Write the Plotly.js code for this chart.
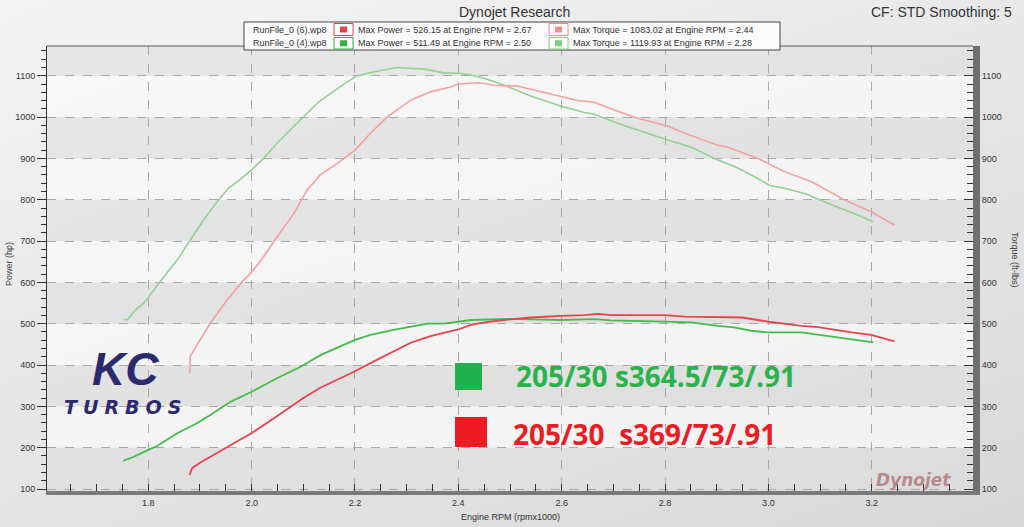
<!DOCTYPE html>
<html>
<head>
<meta charset="utf-8">
<script src="https://cdn.plot.ly/plotly-3.0.1.min.js"></script>
<style>
html,body{margin:0;padding:0;}
body{width:1024px;height:527px;background:linear-gradient(160deg,#f4f4f4 0%,#e6e6e6 50%,#d8d8d8 100%);overflow:hidden;}
#chart{width:1024px;height:527px;}
</style>
</head>
<body>
<div id="chart"></div>
<script>
// ---- data ----
const rpmTorqueGreen = [1.752,1.760,1.775,1.791,1.823,1.856,1.881,1.907,1.933,1.956,1.975,2.000,2.023,2.049,2.075,2.101,2.130,2.166,2.201,2.224,2.256,2.280,2.334,2.372,2.400,2.424,2.450,2.489,2.540,2.598,2.644,2.663,2.708,2.753,2.799,2.851,2.902,2.934,2.967,3.002,3.031,3.070,3.096,3.128,3.161,3.203];
const torqueGreen    = [510,510,533,549,602,654,702,751,795,829,846,872,900,936,969,1001,1037,1069,1098,1106,1115,1120,1116,1107,1106,1102,1094,1077,1051,1027,1011,1007,985,966,947,927,896,881,860,835,828,815,801,785,769,747];

const rpmTorqueRed = [1.880,1.881,1.894,1.920,1.952,1.985,2.001,2.023,2.049,2.082,2.107,2.133,2.166,2.200,2.230,2.263,2.308,2.346,2.385,2.400,2.440,2.469,2.514,2.553,2.598,2.631,2.663,2.702,2.747,2.806,2.838,2.902,2.922,2.980,3.031,3.083,3.148,3.199,3.244];
const torqueRed    = [380,420,448,501,557,606,626,662,710,767,823,860,888,920,961,1001,1041,1061,1073,1080,1083,1077,1075,1063,1051,1040,1036,1017,997,978,961,932,927,900,868,844,799,771,739];

const rpmPowerGreen = [1.751,1.772,1.799,1.817,1.856,1.894,1.920,1.959,2.001,2.049,2.095,2.133,2.200,2.230,2.275,2.340,2.372,2.400,2.424,2.500,2.598,2.663,2.695,2.799,2.851,2.902,2.934,2.967,2.999,3.064,3.096,3.161,3.203];
const powerGreen    = [168,178,194,204,235,259,279,311,336,368,396,424,461,473,485,500,500,505,509,511.5,509,511,508,505,503,495,491,483,479,479,473,462,455];

const rpmPowerRed = [1.880,1.885,1.901,1.946,2.001,2.049,2.101,2.133,2.200,2.243,2.308,2.346,2.400,2.424,2.450,2.489,2.540,2.598,2.644,2.670,2.695,2.799,2.838,2.949,2.999,3.064,3.096,3.161,3.199,3.244];
const powerRed    = [134,151,164,196,236,276,321,345,385,413,454,470,486,497,503,509,515,519,521,524,521,521,517,515,505,495,492,479,473,457];

const runNames   = ["RunFile_0 (6).wp8", "RunFile_0 (4).wp8"];
const maxPower   = ["Max Power = 526.15 at Engine RPM = 2.67", "Max Power = 511.49 at Engine RPM = 2.50"];
const maxTorque  = ["Max Torque = 1083.02 at Engine RPM = 2.44", "Max Torque = 1119.93 at Engine RPM = 2.28"];
const setupLabels = ["205/30 s364.5/73/.91", "205/30  s369/73/.91"];
const bandValues = [100,200,300,400,500,600,700,800,900,1000,1100];

// ---- layout geometry ----
const W = 1024, H = 527;
const PL = 47, PR = 973, PT = 46, PB = 491;
const X = px => (px - PL) / (PR - PL);
const Y = py => (PB - py) / (PB - PT);
const yRange = [95.2, 1172];
const xRange = [1.604, 3.396];

const FONT = "Liberation Sans, Arial, sans-serif";
const cGreenPow = "#45bb4c", cRedPow = "#e8434a";
const cGreenTq = "#93d193", cRedTq = "#f3a0a0";

const traces = [
  {x: rpmTorqueGreen, y: torqueGreen, yaxis: "y2", type: "scatter", mode: "lines", line: {color: cGreenTq, width: 1.6}, hoverinfo: "skip"},
  {x: rpmTorqueRed, y: torqueRed, yaxis: "y2", type: "scatter", mode: "lines", line: {color: cRedTq, width: 1.6}, hoverinfo: "skip"},
  {x: rpmPowerGreen, y: powerGreen, type: "scatter", mode: "lines", line: {color: cGreenPow, width: 1.8}, hoverinfo: "skip"},
  {x: rpmPowerRed, y: powerRed, type: "scatter", mode: "lines", line: {color: cRedPow, width: 1.8}, hoverinfo: "skip"}
];

const shapes = [];
// alternating background bands
for (let i = 0; i < bandValues.length; i++) {
  const lo = bandValues[i];
  const hi = i + 1 < bandValues.length ? bandValues[i + 1] : yRange[1];
  const light = (Math.round(lo / 100) % 2 === 0);
  shapes.push({type: "rect", xref: "paper", yref: "y", x0: 0, x1: 1, y0: lo, y1: hi,
    fillcolor: light ? "rgba(250,250,250,0.75)" : "rgba(222,222,222,0.55)", line: {width: 0}, layer: "below"});
}
shapes.push({type: "rect", xref: "paper", yref: "y", x0: 0, x1: 1, y0: yRange[0], y1: 100,
  fillcolor: "rgba(222,222,222,0.55)", line: {width: 0}, layer: "below"});
// top border of plot
shapes.push({type: "line", xref: "paper", yref: "paper", x0: 0, x1: 1, y0: 1, y1: 1, line: {color: "#555", width: 1}});
// legend box
shapes.push({type: "rect", xref: "paper", yref: "paper", x0: X(244), x1: X(780), y0: Y(22), y1: Y(50),
  fillcolor: "#fbfbfb", line: {color: "#444", width: 1}});
// legend icons
const iconRows = [[23.5, 35.5], [37.5, 49]];
const iconCols = [[334, 353], [549, 568]];
const iconColors = [[cRedPow, "#ef8f8f"], ["#2fb03a", "#7fcf7f"]];
for (let r = 0; r < 2; r++) {
  for (let c = 0; c < 2; c++) {
    const [x0, x1] = iconCols[c], [y0, y1] = iconRows[r];
    shapes.push({type: "rect", xref: "paper", yref: "paper", x0: X(x0), x1: X(x1), y0: Y(y0), y1: Y(y1),
      fillcolor: "#ffffff", line: {color: iconColors[r][c], width: 1}});
    const cx = (x0 + x1) / 2, cy = (y0 + y1) / 2;
    shapes.push({type: "rect", xref: "paper", yref: "paper", x0: X(cx - 3.5), x1: X(cx + 3.5), y0: Y(cy - 3), y1: Y(cy + 3),
      fillcolor: iconColors[r][c], line: {width: 0}});
  }
}
// setup squares
shapes.push({type: "rect", xref: "paper", yref: "paper", x0: X(455), x1: X(482), y0: Y(363), y1: Y(390), fillcolor: "#22b14c", line: {width: 0}});
shapes.push({type: "rect", xref: "paper", yref: "paper", x0: X(455), x1: X(487), y0: Y(417), y1: Y(447), fillcolor: "#ed1c24", line: {width: 0}});

const ann = (text, px, py, opts) => Object.assign({xref: "paper", yref: "paper", x: X(px), y: Y(py), text: text,
  showarrow: false, xanchor: "center", yanchor: "middle", font: {family: FONT, size: 9, color: "#333"}}, opts || {});

const annotations = [
  ann("Dynojet Research", 514, 12, {font: {family: FONT, size: 14, color: "#333"}}),
  ann("CF: STD Smoothing: 5", 1014, 12, {xanchor: "right", font: {family: FONT, size: 14, color: "#333"}}),
  ann(runNames[0], 251, 29.5, {xanchor: "left"}),
  ann(maxPower[0], 356, 29.5, {xanchor: "left"}),
  ann(maxTorque[0], 571, 29.5, {xanchor: "left"}),
  ann(runNames[1], 251, 43, {xanchor: "left"}),
  ann(maxPower[1], 356, 43, {xanchor: "left"}),
  ann(maxTorque[1], 571, 43, {xanchor: "left"}),
  ann("Power (hp)", 9, 264, {textangle: -90, font: {family: FONT, size: 9, color: "#444"}}),
  ann("Torque (ft-lbs)", 1015, 260, {textangle: 90, font: {family: FONT, size: 9, color: "#444"}}),
  ann("Engine RPM (rpmx1000)", 510, 517, {font: {family: FONT, size: 9, color: "#333"}}),
  ann("<b>" + setupLabels[0] + "</b>", 514, 376, {xanchor: "left", font: {family: "Open Sans, sans-serif", size: 28, color: "#2bb24c"}}),
  ann("<b>" + setupLabels[1] + "</b>", 511, 434, {xanchor: "left", font: {family: "Open Sans, sans-serif", size: 28, color: "#ed1c24"}}),
  ann("<b><i>KC</i></b>", 125, 369, {font: {family: "Liberation Sans Narrow, Liberation Sans, sans-serif", size: 46, color: "#2b2a6e"}}),
  ann("<b><i><span style=\"letter-spacing:6px\">TURBOS</span></i></b>", 125, 407, {font: {family: "DejaVu Sans, sans-serif", size: 19, color: "#2b2a6e"}}),
  ann("<b><i>Dynojet</i></b>", 913, 480, {font: {family: "DejaVu Sans, sans-serif", size: 17, color: "rgba(170,110,115,0.75)"}})
];

const layout = {
  width: W, height: H,
  margin: {l: PL, r: W - PR, t: PT, b: H - PB, pad: 0},
  paper_bgcolor: "rgba(0,0,0,0)",
  plot_bgcolor: "rgba(0,0,0,0)",
  showlegend: false,
  font: {family: FONT, size: 9, color: "#333"},
  xaxis: {
    range: xRange, tick0: 1.8, dtick: 0.2, tickformat: ".1f",
    ticks: "inside", ticklen: 7, tickcolor: "#333", tickwidth: 1,
    showgrid: true, gridcolor: "#a8a8a8", griddash: "dash", gridwidth: 1,
    showline: true, linecolor: "#7a7a7a", linewidth: 4,
    zeroline: false, tickfont: {family: FONT, size: 9, color: "#333"},
    minor: {dtick: 0.05, ticks: "inside", ticklen: 7, tickcolor: "#333", showgrid: false}
  },
  yaxis: {
    range: yRange, tick0: 100, dtick: 100,
    ticks: "outside", ticklen: 9, tickcolor: "#333", tickwidth: 1,
    showgrid: true, gridcolor: "#a8a8a8", griddash: "dash", gridwidth: 1,
    showline: true, linecolor: "#333", linewidth: 1,
    zeroline: false, tickfont: {family: FONT, size: 9, color: "#333"},
    minor: {dtick: 20, ticks: "outside", ticklen: 5, tickcolor: "#333", showgrid: false}
  },
  yaxis2: {
    range: yRange, tick0: 100, dtick: 100, overlaying: "y", side: "right",
    ticks: "inside", ticklen: 9, tickcolor: "#333", tickwidth: 1,
    showgrid: false, showline: true, linecolor: "#707070", linewidth: 7,
    zeroline: false, tickfont: {family: FONT, size: 9, color: "#333"},
    minor: {dtick: 20, ticks: "inside", ticklen: 6, tickcolor: "#333", showgrid: false}
  },
  shapes: shapes,
  annotations: annotations
};

Plotly.newPlot("chart", traces, layout, {staticPlot: true, displayModeBar: false});
</script>
</body>
</html>
